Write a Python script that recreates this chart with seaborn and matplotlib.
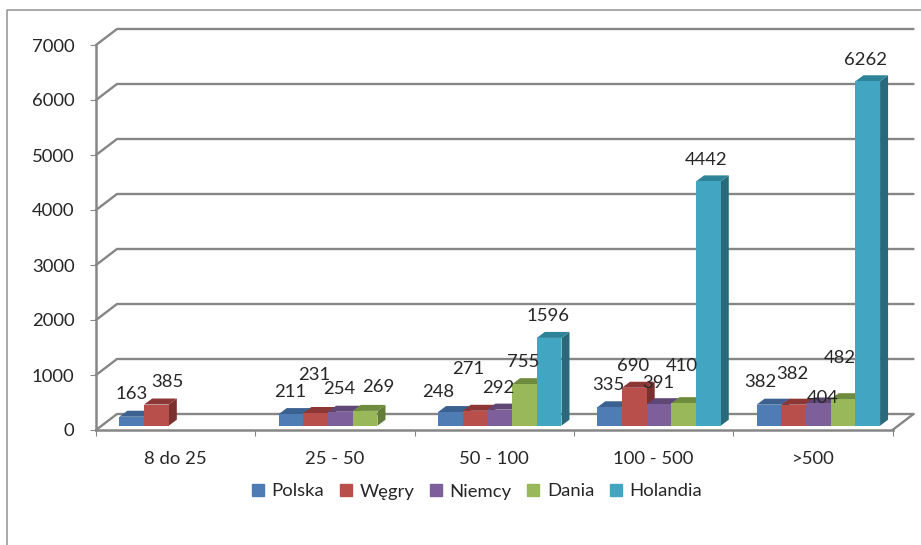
import numpy as np
import pandas as pd
import matplotlib
matplotlib.use("Agg")
import matplotlib.pyplot as plt
from matplotlib.lines import Line2D
from matplotlib.patches import Polygon
import seaborn as sns

categories = ["8 do 25", "25 - 50", "50 - 100", "100 - 500", ">500"]
polska = [163, 211, 248, 335, 382]
wegry = [385, 231, 271, 690, 382]
niemcy = [np.nan, 254, 292, 391, 404]
dania = [np.nan, 269, 755, 410, 482]
holandia = [np.nan, np.nan, 1596, 4442, 6262]
series_names = ["Polska", "Węgry", "Niemcy", "Dania", "Holandia"]
y_ticks = [0, 1000, 2000, 3000, 4000, 5000, 6000, 7000]

# front, top and side face of each series
front_colors = ["#4F7CB5", "#B94F4B", "#7D5F9B", "#98B85A", "#42A5C1"]
top_colors = ["#3A618F", "#8C3735", "#5F4777", "#6F8B3E", "#2F8399"]
side_colors = ["#30527A", "#7A302E", "#50396A", "#637C36", "#286A7C"]

# label shift from the top centre of its bar, in pixels (series, category)
label_nudge = {
    (0, 0): (0, 23), (1, 0): (11, 23),
    (0, 1): (-1, 22), (1, 1): (-1, 38), (2, 1): (-1, 23), (3, 1): (13, 24),
    (0, 2): (-12, 20), (1, 2): (-7, 42), (2, 2): (-1, 22), (3, 2): (-1, 22), (4, 2): (-1, 22),
    (0, 3): (-1, 22), (1, 3): (-1, 22), (2, 3): (-1, 21), (3, 3): (-2, 37), (4, 3): (-2, 21),
    (0, 4): (-9, 23), (1, 4): (-1, 31), (2, 4): (4, 5), (3, 4): (-3, 41), (4, 4): (-2, 21),
}

W, H = 921, 545
AX_L, AX_R, AX_T, AX_B = 96, 892.5, 45, 430
GRAY = "#868686"
TEXT = "#262626"
FS = 13.3

# one pixel in data units
px_x = len(categories) / (AX_R - AX_L)
px_y = 7000 / (AX_B - AX_T)

sns.set_theme(style="white")
plt.rcParams["font.family"] = ["Lato", "DejaVu Sans"]

df = pd.DataFrame({"kategoria": categories, "Polska": polska, "Węgry": wegry,
                   "Niemcy": niemcy, "Dania": dania, "Holandia": holandia})
long_df = df.melt(id_vars="kategoria", var_name="kraj", value_name="liczba")

fig = plt.figure(figsize=(W / 100, H / 100), dpi=100)
ax = fig.add_axes([AX_L / W, 1 - AX_B / H, (AX_R - AX_L) / W, (AX_B - AX_T) / H])

base = 4.3 * px_y
sns.barplot(data=long_df, x="kategoria", y="liczba", hue="kraj", order=categories,
            hue_order=series_names, palette=front_colors, width=0.775, saturation=1,
            linewidth=0, errorbar=None, legend=False, ax=ax, zorder=5)

ax.set_xlim(-0.5, len(categories) - 0.5)
ax.set_ylim(0, 7000)
ax.set_xlabel("")
ax.set_ylabel("")

# back wall and floor
dx, dy = 21 * px_x, 16 * px_y
x0, x1 = ax.get_xlim()
for v in y_ticks:
    ax.plot([x0, x0 + dx, x1 + dx], [v, v + dy, v + dy], color=GRAY, lw=1.7,
            clip_on=False, zorder=1, solid_joinstyle="miter")
ax.plot([x1, x1 + dx], [0, dy], color=GRAY, lw=1.7, clip_on=False, zorder=1)

# depth faces and labels
depth_x, depth_y = 8 * px_x, 6 * px_y
shift = 5.5 * px_x
order = 5
by_series = {}
for j, container in enumerate(ax.containers):
    for bar in container:
        if np.isnan(bar.get_height()) or bar.get_height() == 0:
            continue
        i = int(round(bar.get_x() + bar.get_width() / 2))
        by_series[(j, i)] = bar

for (j, i), bar in sorted(by_series.items(), key=lambda kv: (kv[0][1], kv[0][0])):
    bar.set_x(bar.get_x() + shift)
    bar.set_y(base)
    bar.set_clip_on(False)
    order += 1
    bar.set_zorder(order + 0.5)
    xa, xb = bar.get_x(), bar.get_x() + bar.get_width()
    ya, yb = base, base + bar.get_height()
    ax.add_patch(Polygon([(xb, ya), (xb + depth_x, ya + depth_y), (xb + depth_x, yb + depth_y), (xb, yb)],
                         facecolor=side_colors[j], edgecolor="none", zorder=order, clip_on=False))
    ax.add_patch(Polygon([(xa, yb), (xa + depth_x, yb + depth_y), (xb + depth_x, yb + depth_y), (xb, yb)],
                         facecolor=top_colors[j], edgecolor="none", zorder=order, clip_on=False))
    nx, ny = label_nudge[(j, i)]
    ax.annotate(f"{bar.get_height():.0f}", ((xa + xb) / 2, yb), xytext=(nx, ny),
                textcoords="offset pixels", ha="center", va="center",
                fontsize=FS, color=TEXT, zorder=100, annotation_clip=False)

# axes
for side in ["top", "right"]:
    ax.spines[side].set_visible(False)
for side in ["left", "bottom"]:
    ax.spines[side].set_color(GRAY)
    ax.spines[side].set_linewidth(1.8)
    ax.spines[side].set_zorder(2)
ax.set_yticks(y_ticks)
ax.set_xticks(range(len(categories)))
ax.set_xticklabels(categories)
ax.set_xticks(np.arange(len(categories) + 1) - 0.5, minor=True)
ax.tick_params(axis="y", which="major", left=True, length=4.5, width=0.8, color=GRAY,
               labelsize=FS, labelcolor=TEXT, pad=11)
ax.tick_params(axis="x", which="major", bottom=False, length=0, labelsize=FS, labelcolor=TEXT, pad=15)
ax.tick_params(axis="x", which="minor", bottom=True, length=4.5, width=0.8, color=GRAY)

# legend
handles = [plt.Rectangle((0, 0), 1, 1, color=c) for c in front_colors]
fig.legend(handles, series_names, loc="center", bbox_to_anchor=(477 / W, 1 - 491.5 / H), ncol=5,
           frameon=False, fontsize=FS, labelcolor=TEXT, handlelength=0.66, handleheight=0.66,
           handletextpad=0.4, columnspacing=0.85, borderpad=0)

# outer frame, cut off by the image edge
fig.add_artist(Line2D([7 / W, 7 / W, 1], [0, 1 - 10 / H, 1 - 10 / H], color="#9A9A9A", lw=1.2))

fig.savefig("out.png", dpi=100)
